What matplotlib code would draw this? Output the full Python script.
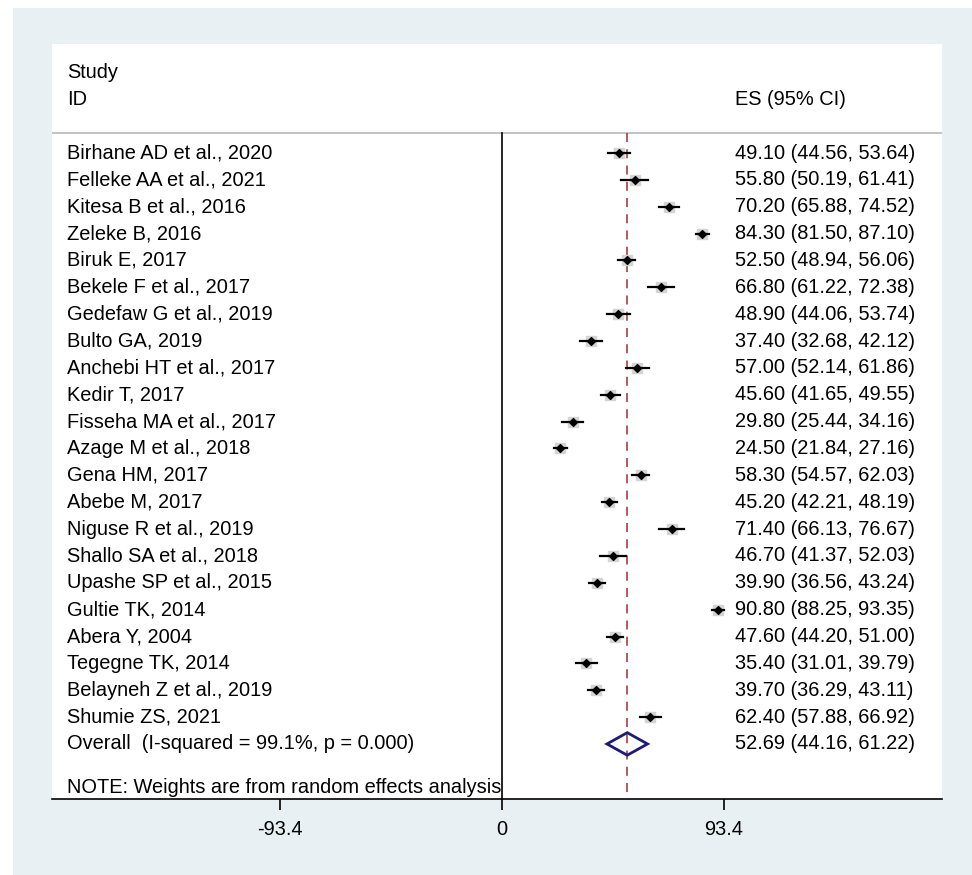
import numpy as np
import matplotlib
matplotlib.use("Agg")
from matplotlib import pyplot as plt
from matplotlib.patches import Polygon, Rectangle

plt.rcParams['font.family'] = ['Liberation Sans', 'DejaVu Sans']

studies = ["Birhane AD et al., 2020", "Felleke AA et al., 2021", "Kitesa B et al., 2016",
           "Zeleke B, 2016", "Biruk E, 2017", "Bekele F et al., 2017", "Gedefaw G et al., 2019",
           "Bulto GA, 2019", "Anchebi HT et al., 2017", "Kedir T, 2017", "Fisseha MA et al., 2017",
           "Azage M et al., 2018", "Gena HM, 2017", "Abebe M, 2017", "Niguse R et al., 2019",
           "Shallo SA et al., 2018", "Upashe SP et al., 2015", "Gultie TK, 2014", "Abera Y, 2004",
           "Tegegne TK, 2014", "Belayneh Z et al., 2019", "Shumie ZS, 2021"]
es = [49.10, 55.80, 70.20, 84.30, 52.50, 66.80, 48.90, 37.40, 57.00, 45.60, 29.80,
      24.50, 58.30, 45.20, 71.40, 46.70, 39.90, 90.80, 47.60, 35.40, 39.70, 62.40]
lo = [44.56, 50.19, 65.88, 81.50, 48.94, 61.22, 44.06, 32.68, 52.14, 41.65, 25.44,
      21.84, 54.57, 42.21, 66.13, 41.37, 36.56, 88.25, 44.20, 31.01, 36.29, 57.88]
hi = [53.64, 61.41, 74.52, 87.10, 56.06, 72.38, 53.74, 42.12, 61.86, 49.55, 34.16,
      27.16, 62.03, 48.19, 76.67, 52.03, 43.24, 93.35, 51.00, 39.79, 43.11, 66.92]
overall_label = "Overall  (I-squared = 99.1%, p = 0.000)"
overall = (52.69, 44.16, 61.22)
ticks = [-93.4, 0, 93.4]
note = "NOTE: Weights are from random effects analysis"

fs = 14.4
fig = plt.figure(figsize=(9.72, 8.75), dpi=100)
fig.patches.append(Rectangle((13 / 972, 0), 1, 1 - 8 / 875, transform=fig.transFigure,
                             facecolor='#e9f0f3', edgecolor='none', zorder=-10))
ax = fig.add_axes([52 / 972, 76 / 875, 890 / 972, 755 / 875])
ax.set_facecolor('white')

x0, x1 = -189.3, 185.1
ax.set_xlim(x0, x1)
ax.set_ylim(25.05, -3.06)
for s in ['top', 'left', 'right']:
    ax.spines[s].set_visible(False)
ax.spines['bottom'].set_linewidth(1.2)
ax.set_yticks([])
ax.set_xticks(ticks)
ax.set_xticklabels([f"{t:g}" for t in ticks], fontsize=fs)
ax.tick_params(axis='x', length=8, width=1.2, pad=7)

xt_label = -183
xt_es = 98
ax.text(xt_label, -2, "Study", fontsize=fs, va='center')
ax.text(xt_label, -1, "ID", fontsize=fs, va='center')
ax.text(xt_es, -1, "ES (95% CI)", fontsize=fs, va='center')
ax.plot([x0, x1], [0.25, 0.25], color='#b8b8b8', lw=1.2)

ax.plot([0, 0], [0.25, 25.05], color='black', lw=1.2)
ax.plot([overall[0], overall[0]], [0.25, 25.05], color='#b04a55', lw=1.3,
        dashes=(5, 4))

rows = np.arange(1, len(studies) + 1)
for r, name, e, l, h in zip(rows, studies, es, lo, hi):
    ax.plot([l, h], [r, r], color='black', lw=1.6, zorder=3)
    ax.text(xt_label, r, name, fontsize=fs, va='center')
    ax.text(xt_es, r, f"{e:.2f} ({l:.2f}, {h:.2f})", fontsize=fs, va='center')
ax.scatter(es, rows, marker='s', s=42, color='#d4d4d4', zorder=2)
ax.scatter(es, rows, marker='D', s=16, color='black', zorder=4)

ro = len(studies) + 1
e, l, h = overall
dia = Polygon([[l, ro], [e, ro - 0.42], [h, ro], [e, ro + 0.42]], closed=True,
              fill=False, edgecolor='#1c1c78', lw=2, zorder=5)
ax.add_patch(dia)
ax.text(xt_label, ro, overall_label, fontsize=fs, va='center')
ax.text(xt_es, ro, f"{e:.2f} ({l:.2f}, {h:.2f})", fontsize=fs, va='center')
ax.text(xt_label, 24.62, note, fontsize=fs, va='center')

fig.savefig("out.png", dpi=100, facecolor='white')
